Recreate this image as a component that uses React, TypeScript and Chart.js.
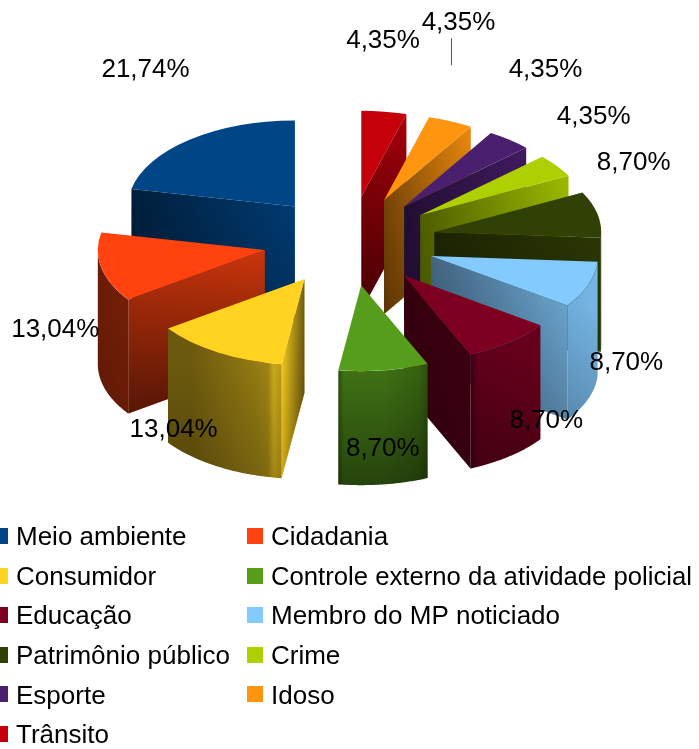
import React, { useEffect, useRef } from "react";
import { Chart, registerables } from "chart.js";

Chart.register(...registerables);

const categories = ["Meio ambiente", "Cidadania", "Consumidor", "Controle externo da atividade policial", "Educação", "Membro do MP noticiado", "Patrimônio público", "Crime", "Esporte", "Idoso", "Trânsito"];
const shares = [21.74, 13.04, 13.04, 8.7, 8.7, 8.7, 8.7, 4.35, 4.35, 4.35, 4.35];
const labelTexts = ["21,74%", "13,04%", "13,04%", "8,70%", "8,70%", "8,70%", "8,70%", "4,35%", "4,35%", "4,35%", "4,35%"];
const colors = ["#004586", "#ff420e", "#ffd320", "#579d1c", "#7e0021", "#83caff", "#314004", "#aecf00", "#4b1f6f", "#ff950e", "#c5000b"];

// label shift from the projected outer mid point of each slice
const labelShift = [[-44, -70], [-46, 62], [-44, 77], [-1, 78], [37, 78], [38, 78], [36, -52], [37, -49], [36, -70], [8, -98], [-1, -71]];
// wall shading: brightness at apex, at outer end, bottom darkening
const radialShade = [[0.85, 0.45, 0.2], [0.8, 0.62, 0.45], [0.45, 0.95, 0.15], [0.5, 0.5, 0.3], [0.42, 0.48, 0.1], [0.5, 0.8, 0.2], [0.55, 0.85, 0.1], [0.45, 0.9, 0.1], [0.45, 0.85, 0.1], [0.45, 0.92, 0.2], [0.6, 0.85, 0.4]];
const outerShade: [number[][], number][] = [
  [[[0, 0.5], [1, 0.5]], 0.1],
  [[[0, 0.42], [1, 0.45]], 0.1],
  [[[0, 0.42], [0.2, 0.42], [0.5, 0.5], [0.75, 0.57], [0.88, 0.62], [0.93, 0.8], [1, 0.72]], 0.2],
  [[[0, 0.5], [0.06, 0.72], [0.5, 0.72], [0.9, 0.62], [1, 0.5]], 0.4],
  [[[0, 0.5], [0.1, 0.75], [1, 0.82]], 0.3],
  [[[0, 0.85], [1, 0.9]], 0.2],
  [[[0, 0.7], [1, 0.7]], 0.1],
  [[[0, 0.7], [1, 0.7]], 0.1],
  [[[0, 0.7], [1, 0.7]], 0.1],
  [[[0, 0.7], [1, 0.7]], 0.1],
  [[[0, 0.7], [1, 0.7]], 0.1],
];

const TILT = 0.515;
const DEPTH = 114;
const RADIUS = 167;
const EXPLODE = 86.5;
const FONT = '26px "Liberation Sans", Arial, sans-serif';

function shade(hex: string, f: number) {
  const n = parseInt(hex.slice(1), 16);
  const c = [(n >> 16) & 255, (n >> 8) & 255, n & 255].map((v) => Math.round(v * f));
  return `rgb(${c[0]},${c[1]},${c[2]})`;
}

const pie3d = {
  id: "pie3d",
  beforeDatasetsDraw(chart: any) {
    const ctx: CanvasRenderingContext2D = chart.ctx;
    const arcs = chart.getDatasetMeta(0).data as any[];
    const cx = (chart.chartArea.left + chart.chartArea.right) / 2;
    const cy = (chart.chartArea.top + chart.chartArea.bottom) / 2;
    const order = arcs.map((_, i) => i).sort((a, b) => {
      const ma = Math.sin((arcs[a].startAngle + arcs[a].endAngle) / 2);
      const mb = Math.sin((arcs[b].startAngle + arcs[b].endAngle) / 2);
      return ma - mb;
    });
    for (const i of order) {
      const el = arcs[i];
      const color = colors[i];
      const mid = (el.startAngle + el.endAngle) / 2;
      const ox = Math.cos(mid) * EXPLODE;
      const oy = Math.sin(mid) * EXPLODE;
      const project = (a: number, rad: number) => ({
        x: cx - (ox + Math.cos(a) * rad),
        y: cy + (oy + Math.sin(a) * rad) * TILT,
      });
      const apex = project(0, 0);
      const R = el.outerRadius;
      // radial walls
      const radial = (a: number) => {
        const p = project(a, R);
        const [fa, fo, dark] = radialShade[i];
        ctx.beginPath();
        ctx.moveTo(apex.x, apex.y);
        ctx.lineTo(p.x, p.y);
        ctx.lineTo(p.x, p.y + DEPTH);
        ctx.lineTo(apex.x, apex.y + DEPTH);
        ctx.closePath();
        const g = ctx.createLinearGradient(apex.x, 0, p.x, 0);
        g.addColorStop(0, shade(color, fa));
        g.addColorStop(1, shade(color, fo));
        ctx.fillStyle = g;
        ctx.fill();
        const dx = p.x - apex.x;
        const dy = p.y - apex.y;
        const len = Math.hypot(dx, dy) || 1;
        const nx = -dy / len;
        const ny = dx / len;
        const proj = DEPTH * ny;
        const v = ctx.createLinearGradient(apex.x, apex.y, apex.x + nx * proj, apex.y + ny * proj);
        v.addColorStop(0, "rgba(0,0,0,0)");
        v.addColorStop(1, `rgba(0,0,0,${dark})`);
        ctx.fillStyle = v;
        ctx.fill();
      };
      if (Math.sin(el.startAngle - Math.PI / 2) > 0.001) radial(el.startAngle);
      if (Math.sin(el.endAngle + Math.PI / 2) > 0.001) radial(el.endAngle);
      // outer curved wall, lower half only
      const a0 = Math.max(el.startAngle, 0);
      const a1 = Math.min(el.endAngle, Math.PI);
      if (a1 > a0) {
        const pts: { x: number; y: number }[] = [];
        const steps = 64;
        for (let s = 0; s <= steps; s++) pts.push(project(a0 + ((a1 - a0) * s) / steps, R));
        ctx.beginPath();
        pts.forEach((p, s) => (s ? ctx.lineTo(p.x, p.y) : ctx.moveTo(p.x, p.y)));
        for (let s = steps; s >= 0; s--) ctx.lineTo(pts[s].x, pts[s].y + DEPTH);
        ctx.closePath();
        const xs = pts.map((p) => p.x);
        const ys = pts.map((p) => p.y);
        const [stops, dark] = outerShade[i];
        const g = ctx.createLinearGradient(Math.min(...xs), 0, Math.max(...xs), 0);
        stops.forEach(([t, f]) => g.addColorStop(t, shade(color, f)));
        ctx.fillStyle = g;
        ctx.fill();
        const top = Math.max(...ys);
        const v = ctx.createLinearGradient(0, top, 0, top + DEPTH);
        v.addColorStop(0, "rgba(0,0,0,0)");
        v.addColorStop(1, `rgba(0,0,0,${dark})`);
        ctx.fillStyle = v;
        ctx.fill();
      }
      // top face: the library's own arc, seen through the tilt
      ctx.save();
      ctx.translate(cx, cy);
      ctx.scale(-1, TILT);
      ctx.translate(ox - cx, oy - cy);
      el.draw(ctx);
      ctx.restore();
    }
    return false;
  },
  afterDraw(chart: any) {
    const ctx: CanvasRenderingContext2D = chart.ctx;
    const arcs = chart.getDatasetMeta(0).data as any[];
    const cx = (chart.chartArea.left + chart.chartArea.right) / 2;
    const cy = (chart.chartArea.top + chart.chartArea.bottom) / 2;
    ctx.save();
    ctx.font = FONT;
    ctx.fillStyle = "#000";
    ctx.textAlign = "center";
    ctx.textBaseline = "middle";
    arcs.forEach((el, i) => {
      const mid = (el.startAngle + el.endAngle) / 2;
      const rad = EXPLODE + el.outerRadius;
      const x = cx - Math.cos(mid) * rad + labelShift[i][0];
      const y = cy + Math.sin(mid) * rad * TILT + labelShift[i][1];
      ctx.fillText(labelTexts[i], x, y);
      if (i === 9) {
        ctx.strokeStyle = "#555";
        ctx.lineWidth = 1;
        ctx.beginPath();
        ctx.moveTo(Math.round(x) - 7.5, y + 15);
        ctx.lineTo(Math.round(x) - 7.5, y + 42);
        ctx.stroke();
      }
    });
    // legend
    ctx.textAlign = "left";
    categories.forEach((name, i) => {
      const col = i % 2;
      const row = Math.floor(i / 2);
      const y = 536 + row * 39.6;
      const sx = col ? 247 : -8;
      ctx.fillStyle = colors[i];
      ctx.fillRect(sx, Math.round(y - 8), 16, 16);
      ctx.fillStyle = "#000";
      ctx.fillText(name, sx + 24, y + 2, 421);
    });
    ctx.restore();
  },
};

export default function App() {
  const ref = useRef<HTMLCanvasElement | null>(null);
  useEffect(() => {
    const chart = new Chart(ref.current!, {
      type: "pie",
      data: {
        labels: categories,
        datasets: [{ data: shares, backgroundColor: colors, borderWidth: 0 }],
      },
      options: {
        animation: false,
        responsive: false,
        radius: RADIUS,
        layout: { padding: { left: 0, right: 0, top: 0, bottom: 267 } },
        plugins: { legend: { display: false }, tooltip: { enabled: false } },
      },
      plugins: [pie3d],
    } as any);
    return () => chart.destroy();
  }, []);
  return (
    <div style={{ position: "absolute", left: 0, top: 0, width: 699, height: 749 }}>
      <canvas ref={ref} width={699} height={749} style={{ display: "block" }} />
    </div>
  );
}
